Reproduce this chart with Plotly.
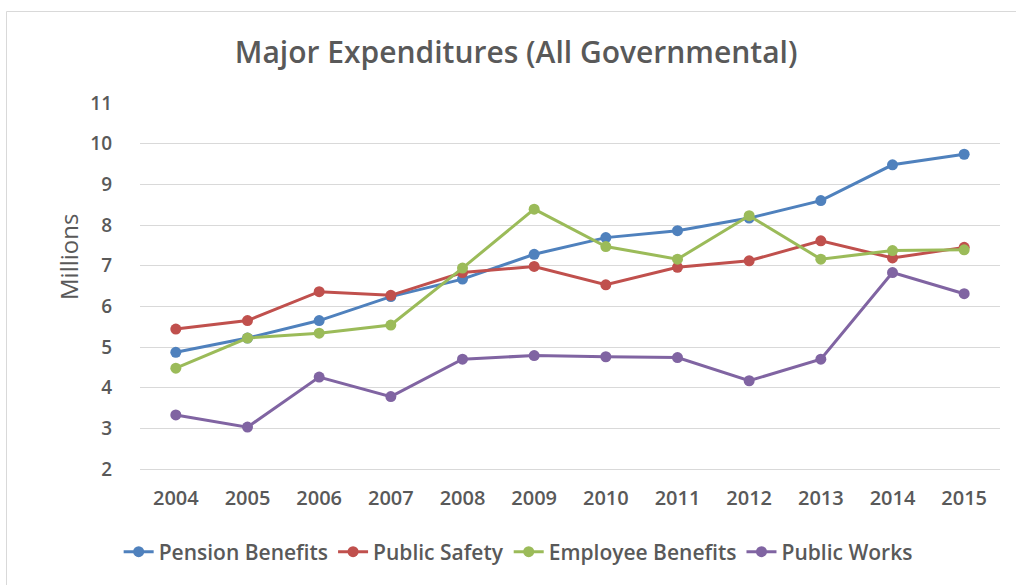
import plotly.graph_objects as go

years = ["2004", "2005", "2006", "2007", "2008", "2009",
         "2010", "2011", "2012", "2013", "2014", "2015"]

pension_benefits = [4.87, 5.22, 5.65, 6.24, 6.67, 7.28, 7.69, 7.86, 8.17, 8.60, 9.48, 9.74]
public_safety = [5.44, 5.65, 6.36, 6.27, 6.83, 6.98, 6.53, 6.96, 7.12, 7.61, 7.19, 7.45]
employee_benefits = [4.48, 5.22, 5.34, 5.54, 6.94, 8.39, 7.47, 7.16, 8.23, 7.16, 7.37, 7.39]
public_works = [3.33, 3.03, 4.26, 3.78, 4.70, 4.79, 4.76, 4.74, 4.17, 4.70, 6.83, 6.31]

series = [
    ("Pension Benefits", pension_benefits, "#4F81BD"),
    ("Public Safety", public_safety, "#C0504D"),
    ("Employee Benefits", employee_benefits, "#9BBB59"),
    ("Public Works", public_works, "#8064A2"),
]

FONT = "Open Sans"
TEXT = "#595959"

fig = go.Figure()
for name, values, color in series:
    fig.add_trace(go.Scatter(
        x=years, y=values, name=name, mode="lines+markers",
        line=dict(color=color, width=3),
        marker=dict(color=color, size=11),
        cliponaxis=False,
    ))

fig.update_layout(
    width=1016, height=585,
    paper_bgcolor="white", plot_bgcolor="white",
    margin=dict(l=140, r=16, t=103, b=116),
    title=dict(
        text="Major Expenditures (All Governmental)",
        x=0.508, xref="container", xanchor="center",
        y=1 - 52 / 585, yref="container", yanchor="middle",
        font=dict(family=FONT, size=30, color=TEXT, weight=600),
    ),
    font=dict(family=FONT, color=TEXT),
    showlegend=True,
    legend=dict(
        orientation="h", x=0.51, xref="container", xanchor="center",
        y=1 - 552 / 585, yref="container", yanchor="middle",
        font=dict(family=FONT, size=21, color=TEXT, weight=600),
        tracegroupgap=0,
    ),
    xaxis=dict(
        type="category", range=[-0.5, 11.5],
        showgrid=False, zeroline=False,
        showline=True, linecolor="#D9D9D9", linewidth=1,
        ticks="", ticklabelstandoff=11,
        tickfont=dict(family=FONT, size=20, color=TEXT, weight=600),
        fixedrange=True,
    ),
    yaxis=dict(
        range=[2, 11], dtick=1, tick0=2,
        showgrid=True, gridcolor="#D9D9D9", gridwidth=1,
        zeroline=False, showline=False,
        ticks="", ticklabelstandoff=27,
        tickfont=dict(family=FONT, size=19, color=TEXT, weight=600),
        fixedrange=True,
    ),
    annotations=[dict(
        text="Millions", textangle=-90,
        xref="paper", yref="paper",
        x=(68 - 140) / 860, y=(469 - 257) / 366,
        xanchor="center", yanchor="middle", showarrow=False,
        font=dict(family=FONT, size=24, color=TEXT, weight=500),
    )],
    shapes=[dict(
        type="rect", xref="paper", yref="paper",
        x0=(6.5 - 140) / 860, x1=(1030 - 140) / 860,
        y0=(469 - 600) / 366, y1=(469 - 11.5) / 366,
        line=dict(color="#D9D9D9", width=1), layer="below",
    )],
)

fig.write_html("out.html")
